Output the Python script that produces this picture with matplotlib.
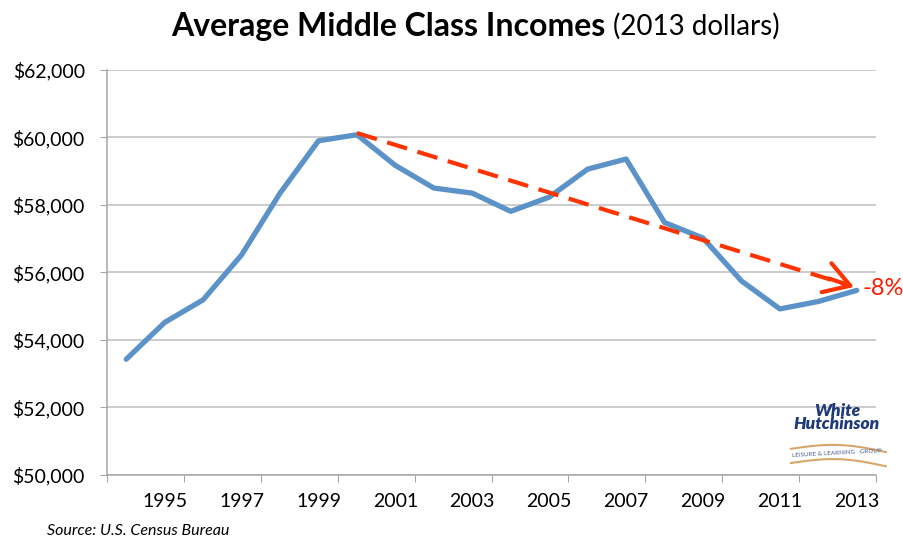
import numpy as np
import matplotlib.pyplot as plt
from matplotlib.ticker import FuncFormatter, FixedLocator

# 数据
years = [1994, 1995, 1996, 1997, 1998, 1999, 2000, 2001, 2002, 2003,
         2004, 2005, 2006, 2007, 2008, 2009, 2010, 2011, 2012, 2013]
incomes = [53430, 54520, 55190, 56520, 58350, 59900, 60080, 59170, 58500, 58350,
           57810, 58230, 59060, 59360, 57480, 57020, 55750, 54920, 55140, 55470]
label_years = [1995, 1997, 1999, 2001, 2003, 2005, 2007, 2009, 2011, 2013]
trend_years = [2000, 2012.88]
trend_values = [60130, 55590]
trend_label = "-8%"

plt.rcParams['font.family'] = ['Lato', 'DejaVu Sans']

fig = plt.figure(figsize=(9.04, 5.46), dpi=100)
ax = fig.add_axes([0.1184, 0.130, 0.8506, 0.742])

x = np.array(years) - years[0]
ax.plot(x, incomes, color='#5B93C8', lw=3.8, solid_capstyle='round', zorder=3)

# 趋势虚线 + 箭头
tx = np.array(trend_years) - years[0]
ax.plot([tx[0], tx[1] - 0.1], [trend_values[0], trend_values[1] + 35], color='#FF3300', lw=3.0,
        dashes=(5, 2.6), zorder=4)
ax.annotate('', xy=(tx[1] + 0.05, trend_values[1] - 20), xytext=(tx[1] - 0.6, trend_values[1] + 230),
            arrowprops=dict(arrowstyle='->,head_length=0.9,head_width=0.55', color='#FF3300', lw=3.0,
                            mutation_scale=20, shrinkA=0, shrinkB=0),
            zorder=4)
ax.text(tx[1] + 0.28, trend_values[1] - 60, trend_label, color='#FF1A00', fontsize=17,
        va='center', ha='left')

ax.set_xlim(-0.5, len(years) - 0.5)
ax.set_ylim(50000, 62000)
ax.set_yticks(np.arange(50000, 62001, 2000))
ax.yaxis.set_major_formatter(FuncFormatter(lambda v, p: f"${v:,.0f}"))

ax.xaxis.set_major_locator(FixedLocator(np.arange(-0.5, len(years), 2)))
ax.xaxis.set_minor_locator(FixedLocator([y - years[0] for y in label_years]))
ax.set_xticklabels([])
ax.set_xticklabels([str(y) for y in label_years], minor=True)
ax.tick_params(axis='x', which='major', length=5, color='#A6A6A6', direction='out')
ax.tick_params(axis='x', which='minor', length=0, pad=13, labelsize=14)
ax.tick_params(axis='y', length=5, color='#A6A6A6', pad=11, labelsize=14)

ax.grid(axis='y', color='#BFBFBF', lw=1.1, zorder=0)
for s in ['top', 'right']:
    ax.spines[s].set_visible(False)
for s in ['left', 'bottom']:
    ax.spines[s].set_color('#A6A6A6')
    ax.spines[s].set_linewidth(1.1)

# 标题
fig.text(0.670, 0.952, "Average Middle Class Incomes", fontsize=23, fontweight='bold',
         ha='right', va='center')
fig.text(0.678, 0.952, "(2013 dollars)", fontsize=20, ha='left', va='center')

# 来源
fig.text(0.052, 0.015, "Source: U.S. Census Bureau", fontsize=11.5, style='italic', va='bottom')

# 标志
fig.text(0.926, 0.235, "White\nHutchinson", fontsize=12.5, fontweight='heavy', style='italic',
         color='#1F3A7A', ha='center', va='center', linespacing=0.75)
t = np.linspace(0, 1, 50)
bx = 0.875 + 0.105 * t
by = 0.178 + 0.010 * np.sin(np.pi * t) - 0.006 * t
fig.add_artist(plt.Line2D(bx, by, color='#D9A56A', lw=1.5, transform=fig.transFigure))
fig.add_artist(plt.Line2D(bx, by - 0.026, color='#D9A56A', lw=1.5, transform=fig.transFigure))
fig.text(0.926, 0.170, "LEISURE & LEARNING   GROUP", fontsize=4.5, color='#4A5A8A',
         ha='center', va='center', rotation=3)

fig.savefig('out.png', dpi=100)
